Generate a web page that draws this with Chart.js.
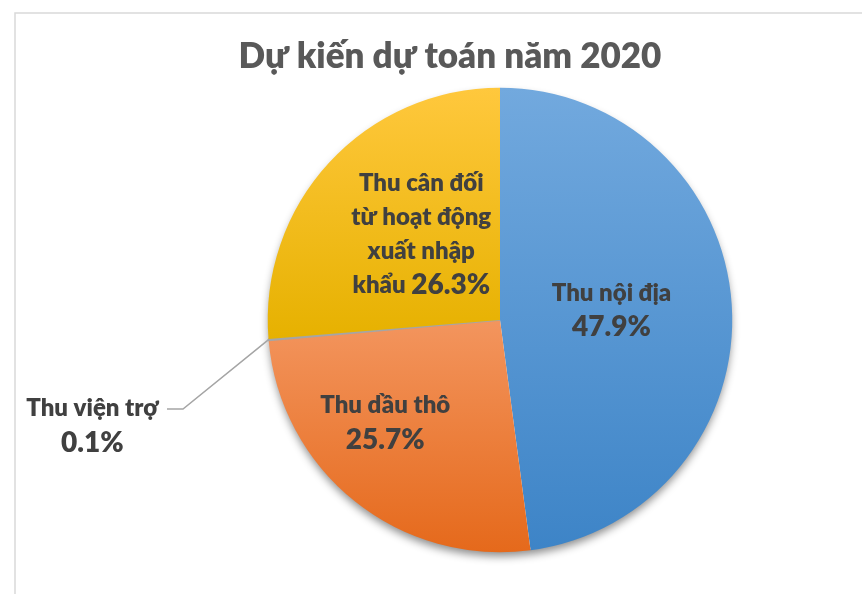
<!DOCTYPE html>
<html>
<head>
<meta charset="utf-8">
<script src="https://cdn.jsdelivr.net/npm/chart.js@4.4.0/dist/chart.umd.min.js"></script>
<style>
  html, body { margin: 0; padding: 0; background: #fff; }
  #wrap { position: relative; width: 862px; height: 594px; }
</style>
</head>
<body>
<div id="wrap"><canvas id="pieChart" width="862" height="594"></canvas></div>
<script>
// Data
const categories = ['Thu nội địa', 'Thu dầu thô', 'Thu viện trợ', 'Thu cân đối từ hoạt động xuất nhập khẩu'];
const shares = [47.9, 25.7, 0.1, 26.3];
const percentLabels = ['47.9%', '25.7%', '0.1%', '26.3%'];

// Gradient colours per slice (top, bottom)
const sliceColors = [
    ['#72a9de', '#3d84c7'],
    ['#f3955e', '#e5691b'],
    ['#a5a5a5', '#a5a5a5'],
    ['#ffc83d', '#e6b100']
];

const FONT = 'Lato, "Open Sans", sans-serif';
const WEIGHT = '800';
const TEXT = '#404040';

// Vertical extent of a slice, so each slice gets its own gradient
function sliceYRange(i, cy, r) {
    const total = shares.reduce((a, b) => a + b, 0);
    let start = 0;
    for (let k = 0; k < i; k++) start += shares[k];
    const a0 = -Math.PI / 2 + start / total * 2 * Math.PI;
    const a1 = a0 + shares[i] / total * 2 * Math.PI;
    let ys = [cy, cy + r * Math.sin(a0), cy + r * Math.sin(a1)];
    // check if the arc passes the top or bottom
    [-Math.PI / 2, Math.PI / 2, 3 * Math.PI / 2].forEach(a => {
        if (a >= a0 && a <= a1) ys.push(cy + r * Math.sin(a));
    });
    return [Math.min(...ys), Math.max(...ys)];
}

function sliceFill(context) {
    const chart = context.chart;
    const area = chart.chartArea;
    const i = context.dataIndex;
    if (!area) return sliceColors[i][0];
    const cy = (area.top + area.bottom) / 2;
    const r = Math.min(area.right - area.left, area.bottom - area.top) / 2;
    const [y0, y1] = sliceYRange(i, cy, r);
    const g = chart.ctx.createLinearGradient(0, y0, 0, y1);
    g.addColorStop(0, sliceColors[i][0]);
    g.addColorStop(1, sliceColors[i][1]);
    return g;
}

// Shadow under the pie + frame
const shadowPlugin = {
    id: 'shadowPlugin',
    beforeDatasetsDraw(chart) {
        const ctx = chart.ctx;
        const arc = chart.getDatasetMeta(0).data[0];
        ctx.save();
        ctx.shadowColor = 'rgba(0,0,0,0.45)';
        ctx.shadowBlur = 9;
        ctx.shadowOffsetY = 5;
        ctx.fillStyle = '#ffffff';
        ctx.beginPath();
        ctx.arc(arc.x, arc.y, arc.outerRadius - 1, 0, Math.PI * 2);
        ctx.fill();
        ctx.restore();
    },
    beforeDraw(chart) {
        const ctx = chart.ctx;
        ctx.save();
        ctx.strokeStyle = '#d9d9d9';
        ctx.lineWidth = 1.5;
        ctx.beginPath();
        ctx.moveTo(15, chart.height + 5);
        ctx.lineTo(15, 13);
        ctx.lineTo(chart.width + 5, 13);
        ctx.stroke();
        ctx.restore();
    }
};

// Label block positions relative to the pie centre, in radius units
const labelOffsets = [[0.48, -0.043], [-0.494, 0.442], [-1.755, 0.455], [-0.339, -0.369]];
const labelLines = [
    [[['Thu nội địa', 24]], [['47.9%', 28]]],
    [[['Thu dầu thô', 24]], [['25.7%', 28]]],
    [[['Thu viện trợ', 24]], [['0.1%', 28]]],
    [[['Thu cân đối', 24]], [['từ hoạt động', 24]], [['xuất nhập', 24]], [['khẩu ', 24], ['26.3%', 28]]]
];

function drawLine(ctx, parts, cx, cy) {
    let w = 0;
    parts.forEach(p => { ctx.font = WEIGHT + ' ' + p[1] + 'px ' + FONT; w += ctx.measureText(p[0]).width; });
    let x = cx - w / 2;
    parts.forEach(p => {
        ctx.font = WEIGHT + ' ' + p[1] + 'px ' + FONT;
        ctx.fillText(p[0], x, cy);
        x += ctx.measureText(p[0]).width;
    });
}

const labelPlugin = {
    id: 'labelPlugin',
    afterDatasetsDraw(chart) {
        const ctx = chart.ctx;
        const meta = chart.getDatasetMeta(0);
        const arc0 = meta.data[0];
        const cx = arc0.x, cy = arc0.y, r = arc0.outerRadius;
        ctx.save();
        ctx.fillStyle = TEXT;
        ctx.textAlign = 'left';
        ctx.textBaseline = 'middle';
        const lh = 34;
        labelLines.forEach((lines, i) => {
            const bx = cx + labelOffsets[i][0] * r;
            const by = cy + labelOffsets[i][1] * r;
            const top = by - (lines.length - 1) * lh / 2;
            lines.forEach((parts, j) => drawLine(ctx, parts, bx, top + j * lh));
        });
        // leader line for the tiny slice
        const small = meta.data[2];
        const mid = (small.startAngle + small.endAngle) / 2;
        const ex = cx + r * Math.cos(mid), ey = cy + r * Math.sin(mid);
        ctx.strokeStyle = '#a5a5a5';
        ctx.lineWidth = 1.5;
        ctx.beginPath();
        ctx.moveTo(ex, ey);
        ctx.lineTo(183, 409);
        ctx.lineTo(167, 409);
        ctx.stroke();
        // title
        ctx.fillStyle = '#595959';
        ctx.textAlign = 'center';
        ctx.font = WEIGHT + ' 35px ' + FONT;
        ctx.fillText('Dự kiến dự toán năm 2020', 450, 57);
        ctx.restore();
    }
};

new Chart(document.getElementById('pieChart'), {
    type: 'pie',
    data: {
        labels: categories,
        datasets: [{
            data: shares,
            backgroundColor: sliceFill,
            borderColor: ['rgba(0,0,0,0)', 'rgba(0,0,0,0)', '#a5a5a5', 'rgba(0,0,0,0)'],
            borderWidth: [0, 0, 1.5, 0]
        }]
    },
    options: {
        responsive: false,
        animation: false,
        layout: { padding: { left: 267, right: 129, top: 87, bottom: 41 } },
        plugins: {
            legend: { display: false },
            title: { display: false },
            tooltip: { enabled: false }
        }
    },
    plugins: [shadowPlugin, labelPlugin]
});
</script>
</body>
</html>
